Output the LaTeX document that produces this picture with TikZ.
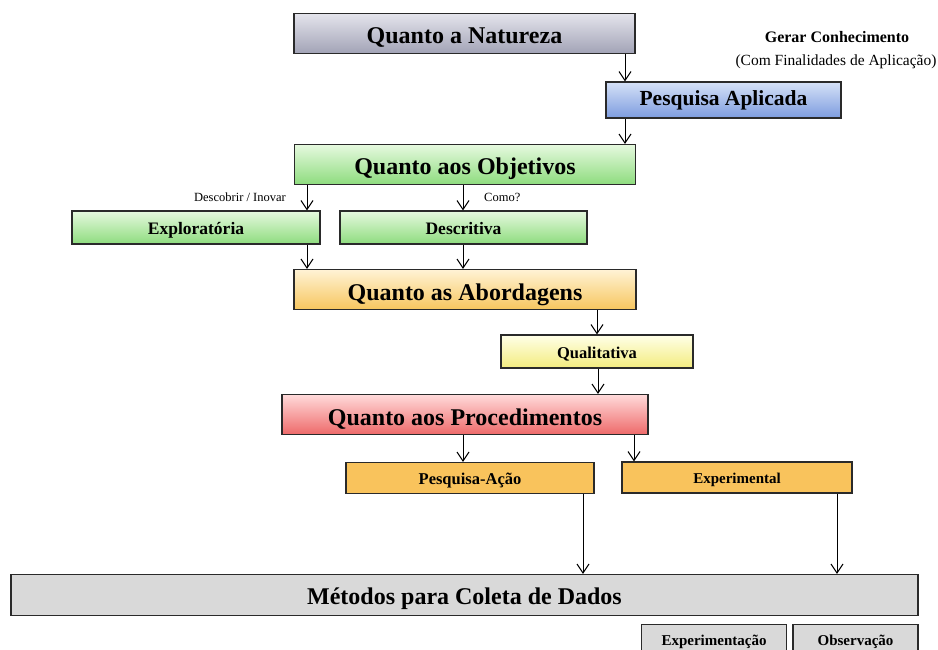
\documentclass[tikz,border=0pt]{standalone}
\usepackage{fontspec}
\setmainfont{Liberation Serif}
\usetikzlibrary{arrows.meta}
\definecolor{inkline}{HTML}{2A2A2A}
\definecolor{natT}{HTML}{E4E4EC}
\definecolor{natB}{HTML}{A2A3B6}
\definecolor{aplT}{HTML}{D5E1F7}
\definecolor{aplB}{HTML}{7D9CDF}
\definecolor{grnT}{HTML}{E6F9DF}
\definecolor{grnB}{HTML}{8EDC7E}
\definecolor{aboT}{HTML}{FFF3D6}
\definecolor{aboB}{HTML}{F7C65E}
\definecolor{quaT}{HTML}{FFFFE8}
\definecolor{quaB}{HTML}{F3EC7E}
\definecolor{proT}{HTML}{FFDADA}
\definecolor{proB}{HTML}{EE6A6A}
\definecolor{pacF}{HTML}{F9C35C}
\definecolor{gryF}{HTML}{D9D9D9}
\tikzset{box/.style={draw=inkline,line width=1.2pt,inner sep=0pt,align=center,text depth=0pt},
  big/.style={box,font=\bfseries\fontsize{24}{26}\selectfont,minimum height=40pt,text height=21pt},
  mid/.style={box,font=\bfseries\fontsize{17.5}{20}\selectfont,minimum height=33pt,text height=13pt},
  small/.style={box,font=\bfseries\fontsize{15}{18}\selectfont,minimum height=31pt,text height=11pt},
  arr/.style={-{Straight Barb[length=9pt,width=12pt]},line width=1pt,draw=black},
  note/.style={inner sep=1pt,font=\fontsize{12.5}{14}\selectfont}}

\begin{document}
\begin{tikzpicture}[x=1pt,y=-1pt]
\useasboundingbox (0,0) rectangle (938,650);

% Natureza and its note.
\node[big,minimum width=341pt,top color=natT,bottom color=natB] (nat) at (464.5,33.5) {Quanto a Natureza};
\node[box,font=\bfseries\fontsize{21.5}{24}\selectfont,minimum width=235pt,minimum height=36pt,text height=12pt,
  top color=aplT,bottom color=aplB] (apl) at (723.5,100) {Pesquisa Aplicada};
\node[font=\bfseries\fontsize{16}{18}\selectfont] (ger) at (837,37) {Gerar Conhecimento};
\node[font=\fontsize{15.5}{18}\selectfont] (fin) at (836,62) {(Com Finalidades de Aplica\c{c}\~ao)};

% Objetivos.
\node[big,minimum width=341pt,top color=grnT,bottom color=grnB] (obj) at (465,164.5) {Quanto aos Objetivos};
\node[mid,minimum width=248pt,top color=grnT,bottom color=grnB] (exp) at (196,227.5) {Explorat\'oria};
\node[mid,minimum width=247pt,top color=grnT,bottom color=grnB] (des) at (463.5,227.5) {Descritiva};
\node[note,anchor=east] (dsc) at (287,197) {Descobrir / Inovar};
\node[note,anchor=west] (com) at (483,197) {Como?};

% Abordagens.
\node[big,minimum width=342pt,top color=aboT,bottom color=aboB] (abo) at (465,289.5) {Quanto as Abordagens};
\node[mid,font=\bfseries\fontsize{16.5}{19}\selectfont,minimum width=192pt,
  top color=quaT,bottom color=quaB] (qua) at (597,351.5) {Qualitativa};

% Procedimentos.
\node[big,minimum width=366pt,top color=proT,bottom color=proB] (pro) at (465,414.5) {Quanto aos Procedimentos};
\node[small,font=\bfseries\fontsize{16.5}{19}\selectfont,text height=12pt,minimum width=248pt,fill=pacF] (pac) at (470,478) {Pesquisa-A\c{c}\~ao};
\node[small,minimum width=230pt,fill=pacF] (emt) at (737,477.5) {Experimental};

% Coleta de dados.
\node[big,minimum width=907pt,minimum height=41pt,text height=18pt,fill=gryF] (met) at (464.5,595) {M\'etodos para Coleta de Dados};
\node[small,minimum width=145pt,text height=10pt,fill=gryF] (epc) at (714,640) {Experimenta\c{c}\~ao};
\node[small,minimum width=125pt,text height=10pt,fill=gryF] (obs) at (855.5,640) {Observa\c{c}\~ao};

% Arrows, each at its own column.
\foreach \from/\to/\x in {nat/apl/625,apl/obj/625,obj/exp/307,obj/des/463,
  exp/abo/307,des/abo/463,abo/qua/597,qua/pro/598,
  pro/pac/463,pro/emt/634,pac/met/583,emt/met/837}{
  \draw[arr] (\from.south -| \x,0) -- (\to.north -| \x,0);
}
\end{tikzpicture}
\end{document}
